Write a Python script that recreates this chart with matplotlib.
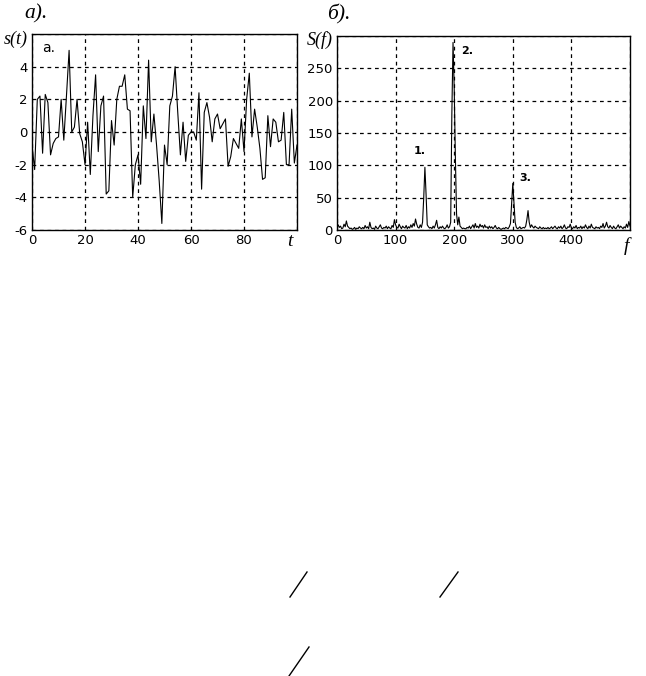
import numpy as np
import matplotlib
matplotlib.use('Agg')
import matplotlib.pyplot as plt
from matplotlib.lines import Line2D

# signal s(t), t = 0..100 step 1
t_vals = list(range(0, 101))
s_vals = [-0.8, -2.3, 2.0, 2.2, -1.3, 2.3, 1.8, -1.4, -0.7, -0.4,
          -0.3, 2.0, -0.5, 2.2, 5.0, 0.0, 0.3, 2.0, -0.1, -0.6,
          -2.0, 0.6, -2.6, 1.0, 3.5, -1.2, 1.6, 2.2, -3.8, -3.6,
          0.7, -0.8, 2.0, 2.8, 2.8, 3.5, 1.4, 1.3, -4.0, -2.0,
          -1.4, -3.2, 1.6, -0.4, 4.4, -0.6, 1.1, -0.8, -3.0, -5.6,
          -0.8, -2.0, 1.6, 2.2, 4.0, 1.2, -1.4, 0.6, -1.8, -0.2,
          0.0, 0.0, -0.5, 2.4, -3.5, 1.2, 1.8, 0.9, -0.6, 0.8,
          1.1, 0.2, 0.5, 0.8, -2.1, -1.5, -0.4, -0.7, -1.0, 0.8,
          -1.2, 2.0, 3.6, -0.3, 1.4, 0.3, -1.0, -2.9, -2.8, 1.0,
          -0.9, 0.8, 0.6, -0.6, -0.5, 1.2, -2.0, -2.0, 1.4, -1.9,
          -0.8]

# spectrum S(f), f = 0..500 step 2
f_vals = list(range(0, 501, 2))
S_vals = [3, 8, 4, 6, 2, 3, 9, 5, 14, 6,
          4, 2, 3, 1, 2, 4, 1, 3, 2, 5,
          3, 2, 4, 2, 7, 3, 5, 2, 12, 4,
          2, 3, 1, 6, 3, 2, 5, 8, 3, 2,
          4, 3, 6, 2, 5, 3, 2, 7, 4, 16,
          8, 4, 3, 9, 5, 2, 6, 4, 3, 7,
          2, 5, 3, 8, 4, 10, 6, 17, 9, 4,
          3, 8, 4, 12, 50, 97, 55, 8, 5, 3,
          4, 2, 6, 3, 8, 15, 4, 2, 5, 3,
          6, 3, 2, 4, 8, 3, 5, 12, 180, 290,
          220, 113, 25, 8, 20, 6, 4, 2, 3, 2,
          2, 4, 3, 6, 2, 5, 8, 3, 10, 4,
          6, 3, 9, 5, 7, 3, 8, 4, 5, 2,
          6, 3, 5, 2, 4, 7, 3, 2, 4, 2,
          1, 2, 3, 2, 4, 3, 2, 5, 10, 40,
          72, 42, 12, 4, 2, 3, 5, 2, 3, 4,
          3, 6, 16, 30, 12, 4, 8, 5, 3, 6,
          4, 3, 2, 5, 3, 2, 4, 2, 3, 2,
          4, 2, 3, 5, 2, 4, 6, 3, 2, 5,
          3, 6, 2, 4, 8, 3, 2, 5, 4, 9,
          3, 2, 5, 3, 7, 2, 4, 3, 6, 2,
          5, 3, 8, 4, 2, 6, 3, 9, 4, 3,
          2, 5, 3, 4, 2, 6, 4, 10, 3, 6,
          12, 5, 3, 7, 4, 2, 6, 3, 2, 5,
          8, 3, 6, 4, 2, 5, 3, 9, 4, 13,
          6]

s_ticks = [-6, -4, -2, 0, 2, 4]
t_ticks = [0, 20, 40, 60, 80]
S_ticks = [0, 50, 100, 150, 200, 250]
f_ticks = [0, 100, 200, 300, 400]

fig = plt.figure(figsize=(6.46, 6.76), dpi=100, facecolor='white')
W, H = 646, 676

def px_axes(x0, y0, x1, y1):
    return fig.add_axes([x0 / W, 1 - y1 / H, (x1 - x0) / W, (y1 - y0) / H])

def style(ax):
    ax.grid(True, color='black', linestyle=(0, (3, 3)), linewidth=0.9)
    ax.tick_params(length=0, labelsize=9.5, pad=3)
    for sp in ax.spines.values():
        sp.set_color('black')
        sp.set_linewidth(1)
    ax.set_axisbelow(True)

serif_it = dict(family='Liberation Serif', style='italic')

# panel a
ax1 = px_axes(32, 34, 297, 230)
ax1.plot(t_vals, s_vals, color='black', linewidth=0.8)
ax1.set_xlim(0, 100)
ax1.set_ylim(-6, 6)
ax1.set_xticks(t_ticks + [100])
ax1.set_xticklabels([str(v) for v in t_ticks] + [''])
ax1.set_yticks(s_ticks + [6])
ax1.set_yticklabels([str(v) for v in s_ticks] + [''])
style(ax1)
ax1.text(0.04, 0.93, 'a.', transform=ax1.transAxes, fontsize=10, va='center', ha='left')

# panel b
ax2 = px_axes(337, 36, 630, 230)
ax2.plot(f_vals, S_vals, color='black', linewidth=0.8)
ax2.set_xlim(0, 500)
ax2.set_ylim(0, 300)
ax2.set_xticks(f_ticks + [500])
ax2.set_xticklabels([str(v) for v in f_ticks] + [''])
ax2.set_yticks(S_ticks + [300])
ax2.set_yticklabels([str(v) for v in S_ticks] + [''])
style(ax2)
ax2.annotate('1.', (150, 97), xytext=(-4, 8), textcoords='offset points',
             ha='center', va='bottom', fontsize=8, fontweight='bold')
ax2.annotate('2.', (198, 290), xytext=(10, -6), textcoords='offset points',
             ha='center', va='center', fontsize=8, fontweight='bold')
ax2.annotate('3.', (300, 72), xytext=(9, 4), textcoords='offset points',
             ha='center', va='center', fontsize=8, fontweight='bold')

# labels
fig.text(36 / W, 1 - 14 / H, 'а).', fontsize=15.5, ha='center', va='center', **serif_it)
fig.text(16 / W, 1 - 39 / H, 's(t)', fontsize=13, ha='center', va='center', **serif_it)
fig.text(290 / W, 1 - 242 / H, 't', fontsize=14, ha='center', va='center', **serif_it)
fig.text(339 / W, 1 - 14 / H, 'б).', fontsize=15.5, ha='center', va='center', **serif_it)
fig.text(320 / W, 1 - 40 / H, 'S(f)', fontsize=13, ha='center', va='center', **serif_it)
fig.text(626 / W, 1 - 246 / H, 'f', fontsize=14, ha='center', va='center', **serif_it)

# stray slash strokes below the charts
for (x0, y0, x1, y1) in [(290, 597, 307, 572), (440, 597, 458, 572), (289, 676, 309, 647)]:
    fig.add_artist(Line2D([x0 / W, x1 / W], [1 - y0 / H, 1 - y1 / H],
                          transform=fig.transFigure, color='black', linewidth=1))

fig.savefig('out.png', dpi=100, facecolor='white')
